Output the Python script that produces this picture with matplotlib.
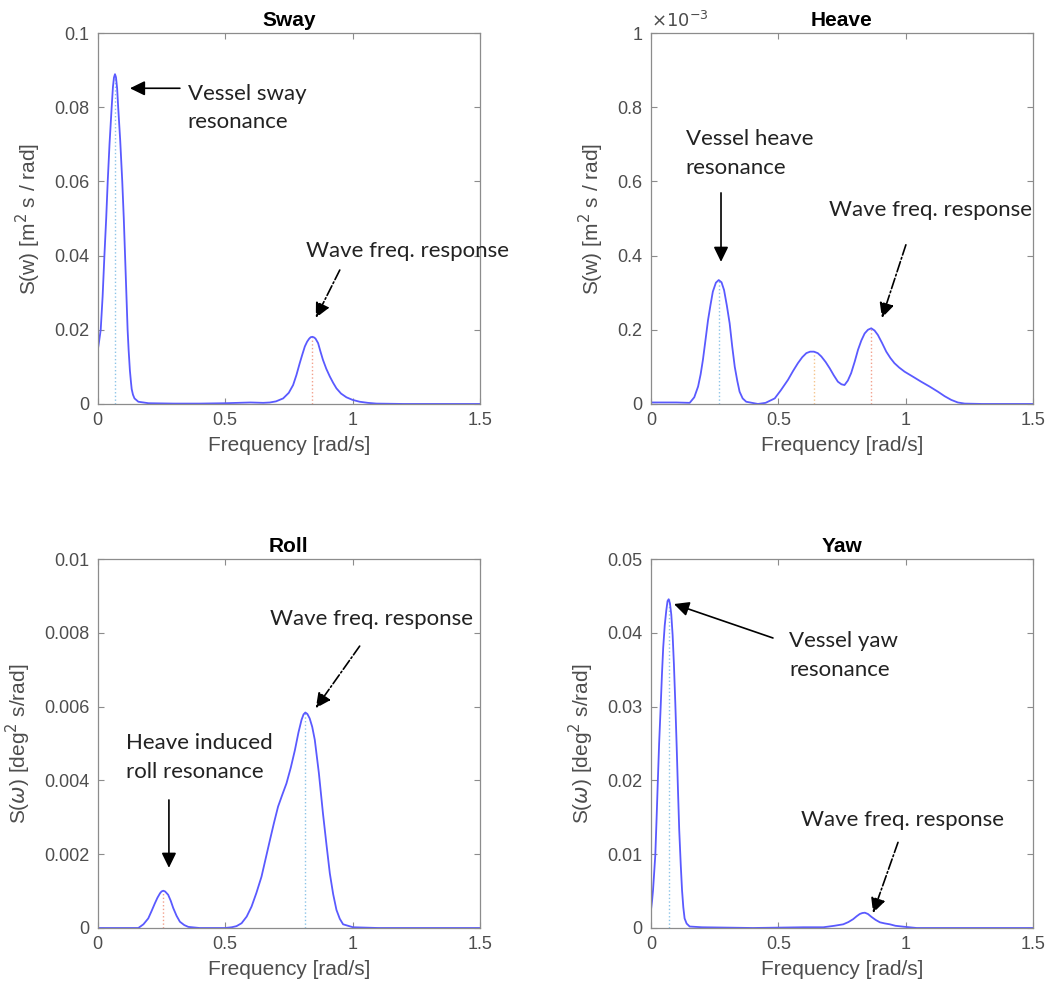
import matplotlib
matplotlib.use("Agg")
import matplotlib.pyplot as plt

# values
sway_freq = [0.0, 0.006, 0.0125, 0.02, 0.027, 0.034, 0.040, 0.047, 0.0555, 0.0605, 0.0645, 0.0685,
             0.0725, 0.077, 0.081, 0.089, 0.097, 0.103, 0.108, 0.113, 0.118, 0.122, 0.127, 0.131,
             0.134, 0.139, 0.145, 0.16, 0.2, 0.3, 0.4, 0.5, 0.55, 0.6, 0.65, 0.676, 0.70, 0.728,
             0.75, 0.767, 0.78, 0.793, 0.803, 0.813, 0.822, 0.83, 0.836, 0.843, 0.85, 0.855, 0.865,
             0.874, 0.884, 0.897, 0.911, 0.924, 0.937, 0.955, 0.976, 1.0, 1.028, 1.06, 1.094, 1.2,
             1.3, 1.4, 1.5]
sway_psd = [0.0141, 0.0168, 0.02, 0.029, 0.04, 0.050, 0.06, 0.070, 0.08, 0.0855, 0.088, 0.0889,
            0.088, 0.085, 0.08, 0.071, 0.06, 0.050, 0.04, 0.030, 0.02, 0.0145, 0.009, 0.006,
            0.004, 0.0025, 0.0015, 0.0006, 0.0002, 0.0001, 0.0001, 0.0002, 0.0003, 0.0004, 0.0003, 0.0004, 0.0007, 0.0015,
            0.0030, 0.0051, 0.0078, 0.011, 0.0133, 0.0155, 0.0168, 0.0176, 0.0180, 0.0181, 0.0179, 0.0176, 0.0164,
            0.0142, 0.0119, 0.0095, 0.0074, 0.0057, 0.0042, 0.0028, 0.0018, 0.0011, 0.0006, 0.0003, 0.0001, 0.0,
            0.0, 0.0, 0.0]
sway_peaks = [0.0685, 0.843]

# heave in units of 1e-3
heave_freq = [0.0, 0.1, 0.152, 0.17, 0.185, 0.195, 0.204, 0.214, 0.224, 0.234, 0.243, 0.255, 0.266,
              0.277, 0.287, 0.298, 0.309, 0.319, 0.329, 0.339, 0.348, 0.36, 0.374, 0.42, 0.45, 0.486,
              0.51, 0.538, 0.558, 0.577, 0.594, 0.61, 0.625, 0.64, 0.655, 0.669, 0.686, 0.702, 0.718,
              0.734, 0.748, 0.76, 0.773, 0.786, 0.80, 0.813, 0.826, 0.839, 0.852, 0.865, 0.878, 0.891,
              0.907, 0.924, 0.94, 0.956, 0.975, 0.996, 1.03, 1.061, 1.094, 1.127, 1.153, 1.179, 1.205,
              1.232, 1.3, 1.4, 1.5]
heave_psd = [0.004, 0.004, 0.003, 0.018, 0.047, 0.08, 0.119, 0.172, 0.226, 0.268, 0.303, 0.327, 0.334,
             0.328, 0.307, 0.265, 0.217, 0.155, 0.10, 0.062, 0.033, 0.015, 0.006, 0.0, 0.003, 0.015,
             0.037, 0.065, 0.089, 0.11, 0.126, 0.137, 0.141, 0.141, 0.137, 0.128, 0.113, 0.096, 0.077,
             0.060, 0.053, 0.051, 0.063, 0.083, 0.114, 0.146, 0.171, 0.19, 0.2, 0.204, 0.198, 0.186,
             0.165, 0.141, 0.124, 0.11, 0.098, 0.087, 0.073, 0.06, 0.047, 0.033, 0.021, 0.011, 0.004,
             0.001, 0.0, 0.0, 0.0]
heave_peaks = [0.266, 0.64, 0.865]

roll_freq = [0.0, 0.16, 0.18, 0.199, 0.212, 0.225, 0.235, 0.245, 0.251, 0.258, 0.265, 0.277, 0.287,
             0.297, 0.31, 0.323, 0.34, 0.356, 0.4, 0.5, 0.526, 0.545, 0.565, 0.585, 0.604, 0.623,
             0.643, 0.66, 0.676, 0.692, 0.708, 0.725, 0.741, 0.758, 0.774, 0.788, 0.800, 0.808,
             0.815, 0.823, 0.832, 0.842, 0.852, 0.868, 0.884, 0.898, 0.911, 0.924, 0.937, 0.95,
             0.963, 1.002, 1.1, 1.5]
roll_psd = [0.0, 0.0, 0.0001, 0.00026, 0.00046, 0.00067, 0.00082, 0.00094, 0.00099, 0.00101, 0.00099, 0.0009, 0.00074,
            0.00054, 0.00033, 0.00017, 0.00008, 0.00003, 0.0, 0.0, 0.00002, 0.00005, 0.00013, 0.00031, 0.00058, 0.00095,
            0.00139, 0.0019, 0.00238, 0.00285, 0.00329, 0.00362, 0.00392, 0.00435, 0.00482, 0.0053, 0.00564, 0.00579,
            0.00584, 0.0058, 0.00568, 0.00545, 0.0051, 0.0042, 0.00311, 0.00225, 0.00148, 0.00092, 0.00049, 0.00025,
            0.0001, 0.00002, 0.0, 0.0]
roll_peaks = [0.258, 0.815]

yaw_freq = [0.0, 0.004, 0.008, 0.012, 0.017, 0.022, 0.027, 0.032, 0.038, 0.043, 0.048, 0.054, 0.060,
            0.065, 0.0695, 0.0745, 0.0797, 0.085, 0.090, 0.0955, 0.101, 0.106, 0.111, 0.117, 0.122,
            0.127, 0.132, 0.14, 0.152, 0.2, 0.4, 0.6, 0.677, 0.72, 0.755, 0.775, 0.794, 0.808, 0.82,
            0.83, 0.84, 0.852, 0.866, 0.882, 0.899, 0.918, 0.938, 0.96, 0.991, 1.043, 1.2, 1.5]
yaw_psd = [0.00243, 0.0036, 0.0051, 0.0072, 0.0099, 0.0148, 0.02, 0.025, 0.0299, 0.0343, 0.038, 0.041, 0.043,
           0.0443, 0.04455, 0.0440, 0.0425, 0.0397, 0.0358, 0.0305, 0.0245, 0.0187, 0.0132, 0.0085, 0.0051,
           0.0028, 0.0013, 0.0006, 0.0002, 0.0001, 0.0, 0.0001, 0.0001, 0.0003, 0.0005, 0.0008, 0.0012, 0.0016, 0.0019,
           0.00203, 0.00207, 0.0019, 0.0015, 0.0011, 0.00077, 0.00062, 0.0005, 0.0003, 0.00018, 0.0, 0.0, 0.0]
yaw_peaks = [0.0695]

x_ticks = [0, 0.5, 1, 1.5]
x_ticklabels = ["0", "0.5", "1", "1.5"]

LINE = "#5a5aff"
PEAK_COLS = {"blue": "#8cc4e8", "red": "#f2a08c", "orange": "#f5c48c"}
ANN_FONT = "Lato"

fig = plt.figure(figsize=(10.52, 9.94), dpi=100)


def setup_axes(rect, title, ylabel, ymax, yticks, yticklabels):
    ax = fig.add_axes(rect)
    ax.set_xlim(0, 1.5)
    ax.set_ylim(0, ymax)
    ax.set_xticks(x_ticks)
    ax.set_xticklabels(x_ticklabels)
    ax.set_yticks(yticks)
    ax.set_yticklabels(yticklabels)
    ax.tick_params(direction="in", top=True, right=True, length=4, width=0.8,
                   color="#8c8c8c", labelcolor="#4d4d4d", labelsize=13, pad=6)
    for s in ax.spines.values():
        s.set_color("#8c8c8c")
        s.set_linewidth(0.9)
    ax.set_title(title, fontsize=15, fontweight="bold", pad=5, family="Liberation Sans")
    ax.set_xlabel("Frequency [rad/s]", fontsize=15, color="#4d4d4d", labelpad=5, family="Liberation Sans")
    ax.set_ylabel(ylabel, fontsize=15, color="#4d4d4d", labelpad=8, family="Liberation Sans")
    for lab in ax.get_xticklabels() + ax.get_yticklabels():
        lab.set_family("Liberation Sans")
    return ax


def draw_curve(ax, freq, psd, peaks, peak_cols):
    for p, c in zip(peaks, peak_cols):
        i = freq.index(p)
        ax.vlines(p, 0, psd[i], colors=PEAK_COLS[c], linestyles=":", linewidth=1.0)
    ax.plot(freq, psd, color=LINE, linewidth=1.3, solid_joinstyle="round")


def note(ax, text, xy):
    ax.text(xy[0], xy[1], text, fontsize=16, family=ANN_FONT, color="#222222",
            ha="left", va="center", linespacing=1.55)


def arrow(ax, tail, tip, ls="-"):
    ax.annotate("", xy=tip, xytext=tail,
                arrowprops=dict(arrowstyle="-|>,head_length=0.45,head_width=0.22",
                                mutation_scale=20, color="black", lw=1.2,
                                linestyle=ls, shrinkA=0, shrinkB=0))


w_l, w_r = 0.3636, 0.3631
ax1 = setup_axes([0.0927, 0.5936, w_l, 0.3732], "Sway", "S(w) [m$^2$ s / rad]", 0.1,
                 [0, 0.02, 0.04, 0.06, 0.08, 0.1], ["0", "0.02", "0.04", "0.06", "0.08", "0.1"])
draw_curve(ax1, sway_freq, sway_psd, sway_peaks, ["blue", "red"])
note(ax1, "Vessel sway\nresonance", (0.353, 0.0798))
arrow(ax1, (0.323, 0.0851), (0.127, 0.0851))
note(ax1, "Wave freq. response", (0.819, 0.0411))
arrow(ax1, (0.95, 0.0361), (0.856, 0.0232), ls="-.")

ax2 = setup_axes([0.6188, 0.5936, w_r, 0.3732], "Heave", "S(w) [m$^2$ s / rad]", 1.0,
                 [0, 0.2, 0.4, 0.6, 0.8, 1.0], ["0", "0.2", "0.4", "0.6", "0.8", "1"])
draw_curve(ax2, heave_freq, heave_psd, heave_peaks, ["blue", "orange", "red"])
ax2.text(0.0, 1.005, r"$\times10^{-3}$", transform=ax2.transAxes, fontsize=13,
         color="#4d4d4d", ha="left", va="bottom")
note(ax2, "Vessel heave\nresonance", (0.136, 0.675))
arrow(ax2, (0.275, 0.569), (0.275, 0.383))
note(ax2, "Wave freq. response", (0.70, 0.523))
arrow(ax2, (1.001, 0.429), (0.907, 0.232), ls="-.")

ax3 = setup_axes([0.0927, 0.0664, w_l, 0.3712], "Roll", r"S($\omega$) [deg$^2$ s/rad]", 0.01,
                 [0, 0.002, 0.004, 0.006, 0.008, 0.01],
                 ["0", "0.002", "0.004", "0.006", "0.008", "0.01"])
draw_curve(ax3, roll_freq, roll_psd, roll_peaks, ["red", "blue"])
note(ax3, "Wave freq. response", (0.678, 0.00837))
arrow(ax3, (1.028, 0.00764), (0.856, 0.00596), ls="-.")
note(ax3, "Heave induced\nroll resonance", (0.112, 0.00463))
arrow(ax3, (0.28, 0.00347), (0.28, 0.00163))

ax4 = setup_axes([0.6188, 0.0664, w_r, 0.3712], "Yaw", r"S($\omega$) [deg$^2$ s/rad]", 0.05,
                 [0, 0.01, 0.02, 0.03, 0.04, 0.05],
                 ["0", "0.01", "0.02", "0.03", "0.04", "0.05"])
draw_curve(ax4, yaw_freq, yaw_psd, yaw_peaks, ["blue"])
note(ax4, "Vessel yaw\nresonance", (0.542, 0.0369))
arrow(ax4, (0.479, 0.0393), (0.0903, 0.0439))
note(ax4, "Wave freq. response", (0.589, 0.0146))
arrow(ax4, (0.97, 0.0116), (0.872, 0.00203), ls="-.")

fig.savefig("out.png", dpi=100, facecolor="white")
